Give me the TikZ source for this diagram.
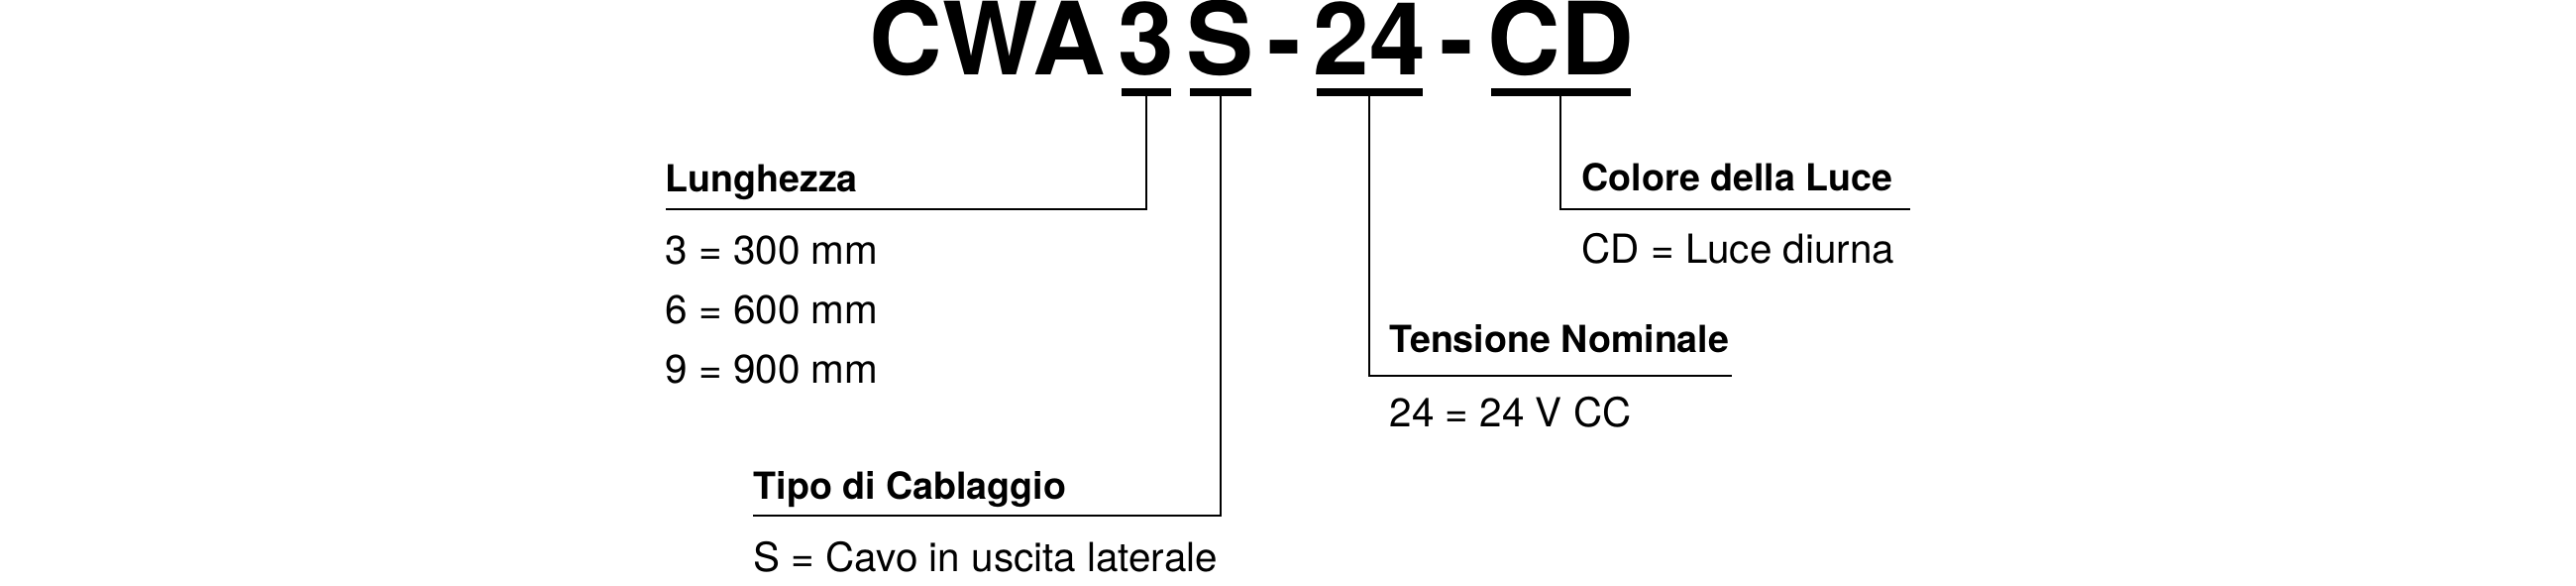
\documentclass[tikz,border=0pt]{standalone}
\usepackage{fontspec}
\setmainfont{TeX Gyre Heros}
\usetikzlibrary{positioning,calc}

\begin{document}
\begin{tikzpicture}[x=0.1mm,y=-0.1mm,
    every node/.style={inner sep=0pt,anchor=base west},
    code/.style={font=\bfseries\fontsize{29}{31}\selectfont},
    head/.style={font=\bfseries\fontsize{10.7}{13}\selectfont},
    item/.style={font=\fontsize{11.5}{14}\selectfont},
    uline/.style={line width=0.8mm,shorten <=0.4mm,shorten >=0.4mm},
    leader/.style={line width=0.2mm}]
  \useasboundingbox (0,0) rectangle (2600,590);
  %code of the part
  \node[code] (cwa) at (877,75) {CWA};
  \node[code,base right=1.2mm of cwa] (n3) {3};
  \node[code,base right=1.1mm of n3] (nS) {S};
  \node[code,base right=1.2mm of nS] (d1) {-};
  \node[code,base right=1.1mm of d1] (n24) {24};
  \node[code,base right=1.3mm of n24] (d2) {-};
  \node[code,base right=1.3mm of d2] (nCD) {CD};
  \foreach \n in {n3,nS,n24,nCD}{
    \draw[uline] ($(\n.base west)+(0,17.5)$) -- ($(\n.base east)+(0,17.5)$);
    \coordinate (t\n) at ($(\n.base)+(0,17.5)$);
  }
  %Lunghezza
  \node[head] (lun) at (671,193) {Lunghezza};
  \coordinate (lunL) at (672,211);
  \draw[leader] (tn3) |- (lunL);
  \node[item] (lun3) at (671,266) {3 = 300 mm};
  \node[item] (lun6) at (671,326) {6 = 600 mm};
  \node[item] (lun9) at (671,386) {9 = 900 mm};
  %Tipo di Cablaggio
  \node[head] (tipo) at (760,503) {Tipo di Cablaggio};
  \coordinate (tipoL) at (760,520);
  \draw[leader] (tnS) |- (tipoL);
  \node[item] (tipoS) at (760,576) {S = Cavo in uscita laterale};
  %Tensione Nominale
  \node[head] (ten) at (1402,355) {Tensione Nominale};
  \coordinate (tenR) at (1748,379);
  \draw[leader] (tn24) |- (tenR);
  \node[item] (ten24) at (1402,430) {24 = 24 V CC};
  %Colore della Luce
  \node[head] (col) at (1596,192) {Colore della Luce};
  \coordinate (colR) at (1928,211);
  \draw[leader] (tnCD) |- (colR);
  \node[item] (colCD) at (1596,265) {CD = Luce diurna};
\end{tikzpicture}
\end{document}
